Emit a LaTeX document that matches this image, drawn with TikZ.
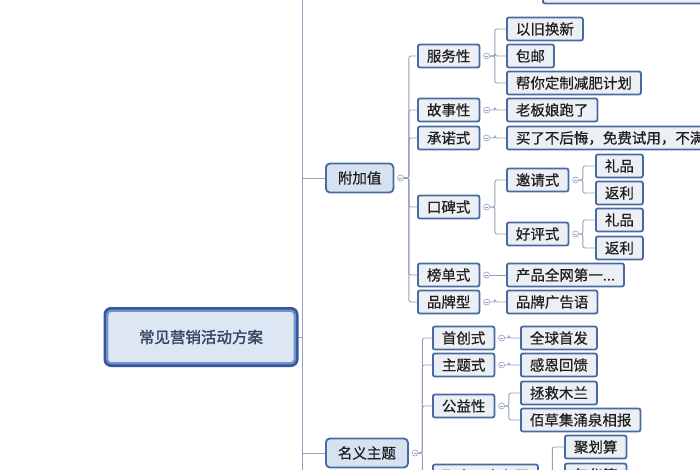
\documentclass[tikz,border=0pt]{standalone}
\usepackage{fontspec}
\setmainfont{Noto Sans CJK SC}[RawFeature={embolden=0.6}]
\newfontfamily\rootfont{Noto Sans CJK SC}[RawFeature={embolden=1.6}]
\usetikzlibrary{positioning}

\definecolor{boxblue}{RGB}{72,106,162}
\definecolor{leaffill}{RGB}{236,239,244}
\definecolor{topicfill}{RGB}{214,226,240}
\definecolor{linkgray}{RGB}{146,160,188}
\definecolor{rootdark}{RGB}{58,86,154}
\definecolor{rootmid}{RGB}{112,148,208}
\definecolor{rootfill}{RGB}{221,230,243}
\definecolor{roottext}{RGB}{52,66,98}

\begin{document}
\begin{tikzpicture}[x=1pt,y=-1pt,
  every node/.style={font=\fontsize{14.5}{16}\selectfont},
  leaf/.style={draw=boxblue,line width=1.8pt,fill=leaffill,rounded corners=2pt,
    anchor=west,minimum height=23pt,inner xsep=9pt,inner ysep=0pt,text=black!88},
  topic/.style={leaf,fill=topicfill,rounded corners=4pt,minimum height=29pt,inner xsep=12pt},
  root/.style={draw=rootdark,line width=3pt,fill=rootfill,rounded corners=6pt,
    minimum width=192pt,minimum height=57pt,text=roottext,font=\rootfont\fontsize{15.5}{17}\selectfont},
  fold/.style={circle,draw=linkgray,fill=white,line width=0.6pt,minimum size=6pt,inner sep=0pt,
    path picture={\draw[linkgray,line width=0.5pt] ([xshift=1.5pt]path picture bounding box.west)
      -- ([xshift=-1.5pt]path picture bounding box.east);}},
  link/.style={draw=linkgray,line width=0.9pt,rounded corners=2pt}]

\clip (0,0) rectangle (700,470);
\fill[white] (0,0) rectangle (700,470);

% trunk and root
\coordinate (ttop) at (302,0);
\coordinate (tbot) at (302,470);
\draw[link] (ttop) -- (tbot);
\node[root] (root) at (201,337) {常见营销活动方案};
\draw[rootmid,line width=2.2pt,rounded corners=4pt]
  ([shift={(3.8,3.8)}]root.north west) rectangle ([shift={(-3.8,-3.8)}]root.south east);
\draw[link] (root.east) -- (root.east -| ttop);

% box above, cut off
\node[leaf,minimum width=170pt] (tbox) at (542,-8) {};

% 附加值
\node[topic] (fjz) at (325,178) {附加值};
\node[fold,right=3pt of fjz] (fjz-o) {};
\draw[link] (fjz.west -| ttop) -- (fjz.west);
\foreach \n/\y/\t in {fwx/56/服务性,gsx/110/故事性,cns/138/承诺式,kbs/207/口碑式,bds/275/榜单式,ppx/302/品牌型}
{
\node[leaf] (\n) at (417,\y) {\t};
\node[fold,right=3pt of \n] (\n-o) {};
\draw[link] (fjz-o.east) -- ++(5,0) |- (\n.west);
}
\foreach \n/\p/\y/\t in {yjhx/fwx/29/以旧换新,by/fwx/56/包邮,bnd/fwx/83/帮你定制减肥计划,
  lbn/gsx/110/老板娘跑了,mlb/cns/138/买了不后悔，免费试用，不满意退款,ppg/ppx/302/品牌广告语}
{
\node[leaf] (\n) at (506,\y) {\t};
\draw[link] (\p-o.east) -- ++(5,0) |- (\n.west);
}
\node[leaf] (cpq) at (506,275) {产品全网第一...};
\draw[link] (bds-o.east) -- (cpq.west);

% 口碑式
\foreach \n/\y/\t in {yqs/180/邀请式,hps/234/好评式}
{
\node[leaf] (\n) at (506,\y) {\t};
\node[fold,right=3pt of \n] (\n-o) {};
\draw[link] (kbs-o.east) -- ++(5,0) |- (\n.west);
}
\foreach \n/\p/\y/\t in {lpa/yqs/166/礼品,fla/yqs/193/返利,lpb/hps/220/礼品,flb/hps/248/返利}
{
\node[leaf] (\n) at (595,\y) {\t};
\draw[link] (\p-o.east) -- ++(4,0) |- (\n.west);
}

% 名义主题
\node[topic] (myzt) at (325,453) {名义主题};
\node[fold,right=3pt of myzt] (myzt-o) {};
\draw[link] (myzt.west -| ttop) -- (myzt.west);
\foreach \n/\y/\t in {scs/338/首创式,zts/365/主题式,gyx/406/公益性,jhlg/476/聚合两个主题}
{
\node[leaf] (\n) at (432,\y) {\t};
\node[fold,right=3pt of \n] (\n-o) {};
\draw[link] (myzt-o.east) -- ++(4,0) |- (\n.west);
}
\foreach \n/\p/\y/\t in {qqsf/scs/338/全球首发,gehk/zts/365/感恩回馈,zjml/gyx/393/拯救木兰,bcj/gyx/420/佰草集涌泉相报}
{
\node[leaf] (\n) at (520,\y) {\t};
\draw[link] (\p-o.east) -- ++(4,0) |- (\n.west);
}
\foreach \n/\y/\t in {jhs/447/聚划算,mhs/475/每华算}
{
\node[leaf] (\n) at (564,\y) {\t};
\draw[link] (jhlg-o.east) -- ++(4,0) |- (\n.west);
}
\end{tikzpicture}
\end{document}
